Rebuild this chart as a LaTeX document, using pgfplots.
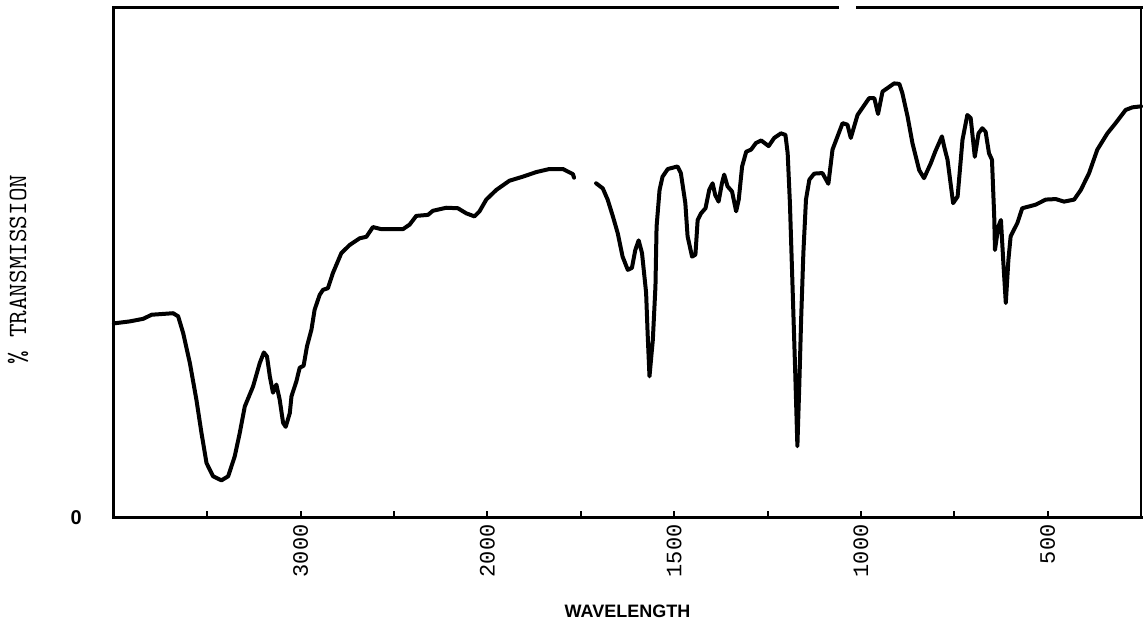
\documentclass[border=0pt]{standalone}
\usepackage{pgfplots}
\pgfplotsset{compat=1.18}
\usepackage{fontspec}
\newfontfamily\tickfont{Liberation Mono}
\newfontfamily\labfont{Liberation Sans}
\begin{document}
\begin{tikzpicture}
\begin{axis}[
  name=ax,
  scale only axis,
  width=514pt, height=255pt,
  x coord trafo/.code={\pgfmathparse{ifthenelse(#1>2000,1000+0.5*#1,#1)}},
  x dir=reverse,
  xmin=250, xmax=4000,
  ymin=0, ymax=100,
  clip=false,
  axis x line*=bottom, axis y line*=left,
  axis line style={line width=1.5pt, line cap=rect},
  xtick pos=bottom, ytick pos=left,
  tick align=inside,
  xtick={3500,3000,2500,2000,1750,1500,1250,1000,750,500},
  xticklabels={,3000,,2000,,1500,,1000,,500},
  major tick length=3.5pt,
  xtick style={line width=1pt, black},
  xticklabel style={rotate=90, anchor=east, font=\tickfont\fontsize{11}{12}\selectfont, yshift=0pt},
  ytick={0}, yticklabels={\labfont\bfseries 0},
  ytick style={draw=none},
  yticklabel style={anchor=east, xshift=-12.5pt, font=\fontsize{10}{12}\selectfont},
  xlabel={WAVELENGTH},
  xlabel style={at={(axis description cs:0.5,-0.184)}, anchor=center, font=\labfont\bfseries\fontsize{9}{11}\selectfont},
  ylabel={\% TRANSMISSION},
  ylabel style={at={(axis description cs:-0.0934,0.486)}, anchor=center, font=\ttfamily\fontsize{13.2}{15}\selectfont},
]
\addplot[black, line width=2pt, line join=round, line cap=round] table {
4000 38.1
3914 38.5
3843 39.0
3798 39.8
3683 40.1
3656 39.5
3629 36.2
3593 30.3
3558 23.1
3531 16.6
3504 10.7
3469 8.1
3424 7.3
3388 8.1
3353 12.0
3326 16.6
3299 21.8
3255 25.7
3219 30.3
3197 32.4
3180 31.6
3165 27.7
3148 24.5
3130 26.1
3112 23.1
3094 18.6
3080 17.8
3058 20.5
3049 23.8
3023 26.7
3005 29.4
2984 29.8
2966 33.6
2942 36.9
2925 40.8
2898 43.7
2880 44.7
2854 45.0
2827 48.0
2782 51.9
2737 53.5
2684 54.8
2648 55.1
2613 57.0
2568 56.6
2452 56.6
2416 57.5
2381 59.2
2318 59.4
2292 60.2
2220 60.8
2158 60.7
2113 59.7
2069 59.1
2042 60.1
2006 62.4
1976 64.3
1941 66.1
1905 66.9
1869 67.8
1834 68.4
1798 68.4
1771 67.4
1768 66.7
};
\addplot[black, line width=2pt, line join=round, line cap=round] table {
1709 65.6
1691 64.6
1678 62.4
1664 59.1
1651 55.8
1638 51.2
1624 48.6
1613 49.0
1604 52.5
1595 54.4
1586 51.9
1575 44.1
1571 36.2
1566 27.7
1557 34.9
1550 45.4
1547 57.1
1539 64.3
1531 66.9
1517 68.4
1491 68.9
1482 67.6
1470 61.7
1464 55.2
1452 51.2
1443 51.6
1437 58.4
1428 59.7
1416 60.7
1406 64.3
1397 65.6
1390 63.3
1381 62.0
1372 65.6
1366 67.3
1357 65.0
1345 64.0
1334 60.1
1327 62.4
1318 68.9
1307 71.8
1294 72.2
1281 73.5
1267 74.0
1247 72.9
1232 74.5
1214 75.4
1202 75.1
1196 71.5
1190 61.7
1183 45.4
1176 29.0
1170 14.0
1165 25.7
1160 38.8
1154 51.9
1147 62.4
1138 66.3
1125 67.5
1103 67.6
1087 65.5
1076 72.2
1049 77.4
1036 77.1
1027 74.5
1009 79.0
978 82.3
964 82.3
954 79.2
942 83.6
911 85.2
897 85.1
889 83.3
875 78.7
862 73.5
844 68.2
831 66.6
813 69.5
801 71.8
783 74.8
777 72.8
768 70.2
753 61.7
741 63.0
728 74.1
715 79.0
706 78.4
695 70.8
685 75.4
675 76.4
666 75.7
657 71.5
649 70.2
643 59.1
641 52.5
632 57.1
625 58.4
619 50.6
612 42.1
605 50.6
599 55.2
581 57.8
568 60.7
532 61.4
505 62.4
478 62.5
456 62.0
429 62.4
411 64.3
389 67.6
367 72.2
340 75.4
318 77.4
291 80.0
273 80.5
250 80.7
};
\draw[line width=1.5pt, line cap=rect] (rel axis cs:0,1) -- (rel axis cs:0.7043,1);
\draw[line width=1.5pt, line cap=rect] (rel axis cs:0.7237,1) -- (rel axis cs:1,1);
\draw[line width=0.9pt] (rel axis cs:1,0) -- (rel axis cs:1,1);
\end{axis}
\path (ax.south west) ++(-57pt,-56.5pt) coordinate (bl);
\path (ax.north east) ++(0.5pt,4pt) coordinate (tr);
\path (bl) rectangle (tr);
\end{tikzpicture}
\end{document}
